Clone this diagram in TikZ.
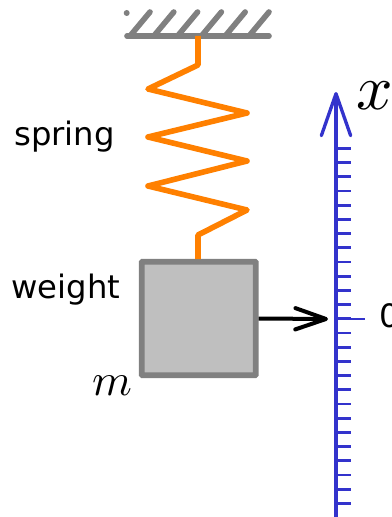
\documentclass[tikz,border=0pt]{standalone}
\usepackage{fontspec}
\setsansfont{DejaVu Sans}
\usepackage{amsmath}
\usepackage{xcolor}
\usetikzlibrary{arrows.meta, positioning}

\definecolor{springorange}{HTML}{FF8000}
\definecolor{axisblue}{HTML}{3333CC}
\tikzset{
    groundline/.style={line width=4.2pt, color=gray, line cap=round},
    springline/.style={line width=4.2pt, color=springorange, line join=round},
    weightbox/.style={draw=gray, fill=black!25, line width=4.3pt, rounded corners=0.5pt, minimum width=85.5pt, minimum height=85pt, inner sep=0pt},
    axisline/.style={line width=2.5pt, color=axisblue, line cap=round},
    tickline/.style={line width=2.1pt, color=axisblue},
    sidelabel/.style={font=\sffamily\fontsize{24.2}{28}\selectfont, inner sep=0pt}
}

\begin{document}
\begin{tikzpicture}[x=0.75pt, y=-0.75pt]

    \useasboundingbox (0,0) rectangle (392,517);

    % =================================================================
    % 1. MAIN POINTS
    % =================================================================
    \coordinate (GroundL) at (127,36);
    \coordinate (GroundR) at (269,36);
    \coordinate (SpringTop) at (198,36);
    \coordinate (AxisBottom) at (336,517);
    \coordinate (AxisTop) at (336,92);
    \coordinate (PointerTip) at (328,319);

    % =================================================================
    % 2. CEILING
    % =================================================================
    \foreach \hx in {150,173.8,197.6,221.4,245.2,269}
        \draw[groundline] (\hx-20,36) -- (\hx,12);
    \fill[gray] (126.7,13) circle (3);
    \draw[groundline] (GroundL) -- (GroundR);

    % =================================================================
    % 3. WEIGHT AND SPRING
    % =================================================================
    \node[weightbox] (weight) at (198.7,318.5) {};
    \draw[springline] (SpringTop) -- (198,65) -- (148,89) -- (247,113) -- (148,137) -- (247,161)
        -- (148,186) -- (247,210) -- (198,235) -- (198,259);

    % =================================================================
    % 4. AXIS WITH TICKS
    % =================================================================
    \foreach \i in {0,...,25}
        \draw[tickline] (336,148.3+14.2*\i) -- (351,148.3+14.2*\i);
    \draw[tickline] (336,319) -- (365,319);
    \draw[axisline, -{Straight Barb[length=31.5pt, width=22pt, round]}] (AxisBottom) -- (AxisTop);

    % pointer from the weight to the axis
    \draw[line width=3pt, line cap=butt, -{Straight Barb[length=23pt, width=16pt, round]}] (weight.east) -- (PointerTip);

    % =================================================================
    % 5. LABELS
    % =================================================================
    \node[sidelabel] (springlabel) at (64.5,137) {spring};
    \node[sidelabel] (weightlabel) at (66,290) {weight};
    \node[sidelabel, anchor=west] (zerolabel) at (379,316) {0};
    \node[inner sep=0pt, scale=3.4] (mlabel) at (112,386) {$m$};
    \node[inner sep=0pt, scale=4.8] (xlabel) at (375,96) {$x$};

\end{tikzpicture}
\end{document}
